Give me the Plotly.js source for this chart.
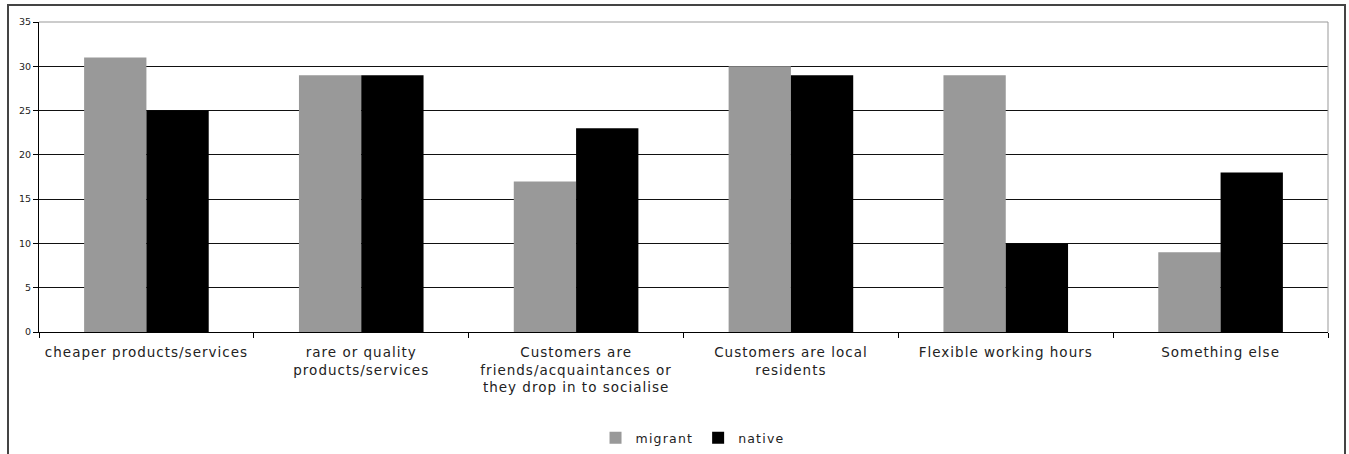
<!DOCTYPE html>
<html>
<head>
<meta charset="utf-8">
<script src="https://cdn.plot.ly/plotly-3.0.1.min.js"></script>
<style>
  html, body { margin: 0; padding: 0; background: #fff; overflow: hidden; }
  #wrap { position: absolute; left: 7px; top: 4px; width: 1335px; height: 456px;
          border: 2px solid #444; border-bottom: none; background: #fff; }
  #chart { width: 1335px; height: 450px; }
  .xtick text { letter-spacing: 1px; }
  .legendtext { letter-spacing: 1.2px; }
</style>
</head>
<body>
<div id="wrap"><div id="chart"></div></div>
<script>
const categories = [
  "cheaper products/services",
  "rare or quality<br>products/services",
  "Customers are<br>friends/acquaintances or<br>they drop in to socialise",
  "Customers are local<br>residents",
  "Flexible working hours",
  "Something else"
];
const migrant = [31, 29, 17, 30, 29, 9];
const native = [25, 29, 23, 29, 10, 18];
const yTicks = [0, 5, 10, 15, 20, 25, 30, 35];

const font = "DejaVu Sans, Verdana, sans-serif";

const data = [
  { type: "bar", name: "migrant", x: categories, y: migrant,
    marker: { color: "#999999", line: { width: 0 } } },
  { type: "bar", name: "native", x: categories, y: native,
    marker: { color: "#000000", line: { width: 0 } } }
];

const layout = {
  width: 1335, height: 450,
  margin: { l: 30, r: 16, t: 16, b: 124 },
  paper_bgcolor: "#fff", plot_bgcolor: "#fff",
  barmode: "group", bargap: 0.42, bargroupgap: 0,
  font: { family: font, color: "#222" },
  showlegend: true,
  legend: { orientation: "h", x: 0.512, xanchor: "center", xref: "container",
            y: 0.04, yanchor: "middle", yref: "container", itemwidth: 30,
            font: { size: 12.5, family: font, color: "#222" }, traceorder: "normal" },
  xaxis: {
    type: "category", tickson: "boundaries", ticks: "outside", ticklen: 5, tickcolor: "#000",
    showline: true, linecolor: "#000", linewidth: 1, showgrid: false,
    tickfont: { size: 13.5, family: font, color: "#222" }, tickangle: 0, automargin: false,
    ticklabelstandoff: 8
  },
  yaxis: {
    range: [0, 35], tickvals: yTicks, ticktext: yTicks.map(String),
    ticks: "outside", ticklen: 5, tickcolor: "#000",
    showline: true, linecolor: "#000", linewidth: 1,
    showgrid: true, gridcolor: "#111", gridwidth: 1, zeroline: false,
    tickfont: { size: 9.5, family: font, color: "#222" }, automargin: false
  },
  shapes: [
    { type: "line", xref: "paper", yref: "paper", x0: 0, x1: 1, y0: 1, y1: 1,
      line: { color: "#999", width: 1 } },
    { type: "line", xref: "paper", yref: "paper", x0: 1, x1: 1, y0: 0, y1: 1,
      line: { color: "#999", width: 1 } }
  ]
};

Plotly.newPlot("chart", data, layout, { displayModeBar: false, staticPlot: true });
</script>
</body>
</html>
